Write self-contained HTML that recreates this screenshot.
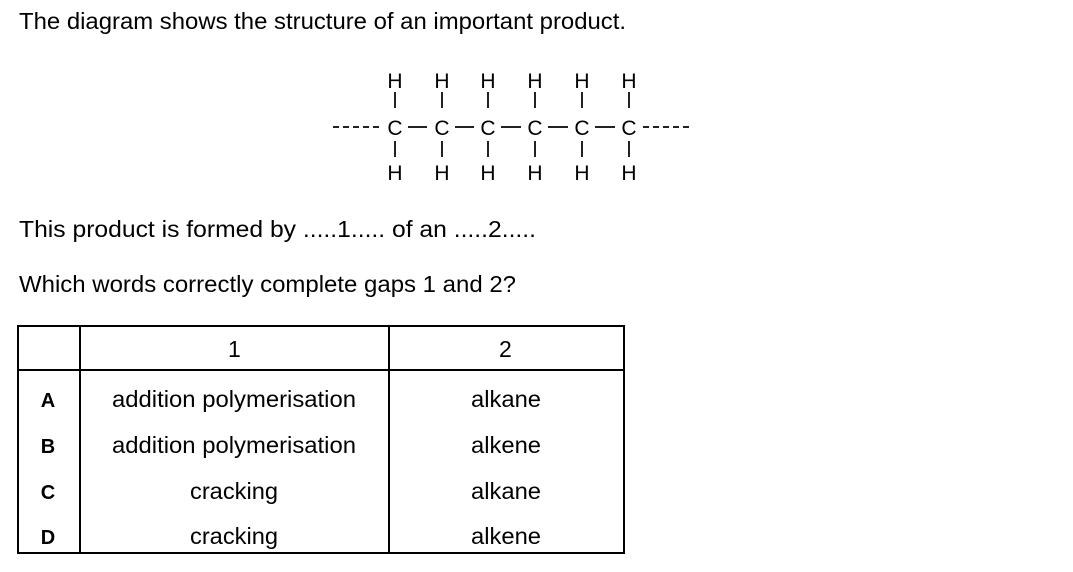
<!DOCTYPE html>
<html><head><style>
html,body{margin:0;padding:0;background:#fff;width:1073px;height:572px;overflow:hidden}
svg{display:block}
text{font-family:"Liberation Sans",Arial,sans-serif;fill:#000}
</style></head><body>
<svg width="1073" height="572" xmlns="http://www.w3.org/2000/svg">
<text x="19" y="29" font-size="23" textLength="607" lengthAdjust="spacingAndGlyphs">The diagram shows the structure of an important product.</text>
<g font-size="21" text-anchor="middle">
<text x="395" y="88">H</text><text x="442" y="88">H</text><text x="488" y="88">H</text><text x="535" y="88">H</text><text x="582" y="88">H</text><text x="629" y="88">H</text>
<text x="395" y="135">C</text><text x="442" y="135">C</text><text x="488" y="135">C</text><text x="535" y="135">C</text><text x="582" y="135">C</text><text x="629" y="135">C</text>
<text x="395" y="180">H</text><text x="442" y="180">H</text><text x="488" y="180">H</text><text x="535" y="180">H</text><text x="582" y="180">H</text><text x="629" y="180">H</text>
</g>
<g stroke="#222" stroke-width="2">
<path d="M395 92V108M442 92V108M488 92V108M535 92V108M582 92V108M629 92V108"/>
<path d="M395 141V157M442 141V157M488 141V157M535 141V157M582 141V157M629 141V157"/>
<path d="M408 127H427M455 127H474M501 127H521M548 127H568M595 127H615"/>
<path d="M333 127H381M643 127H690" stroke-dasharray="6,4"/>
</g>
<text x="19" y="237" font-size="23" textLength="517" lengthAdjust="spacingAndGlyphs">This product is formed by .....1..... of an .....2.....</text>
<text x="19" y="292" font-size="23" textLength="497" lengthAdjust="spacingAndGlyphs">Which words correctly complete gaps 1 and 2?</text>
<g stroke="#000" stroke-width="2" fill="none">
<rect x="18" y="326" width="606" height="227"/>
<path d="M18 370H624M80 326V553M389 326V553"/>
</g>
<g font-size="23">
<text x="228" y="357">1</text><text x="499" y="357">2</text>
<text x="112" y="407" textLength="244" lengthAdjust="spacingAndGlyphs">addition polymerisation</text><text x="471" y="407" textLength="70" lengthAdjust="spacingAndGlyphs">alkane</text>
<text x="112" y="453" textLength="244" lengthAdjust="spacingAndGlyphs">addition polymerisation</text><text x="471" y="453" textLength="70" lengthAdjust="spacingAndGlyphs">alkene</text>
<text x="190" y="499" textLength="88" lengthAdjust="spacingAndGlyphs">cracking</text><text x="471" y="499" textLength="70" lengthAdjust="spacingAndGlyphs">alkane</text>
<text x="190" y="544" textLength="88" lengthAdjust="spacingAndGlyphs">cracking</text><text x="471" y="544" textLength="70" lengthAdjust="spacingAndGlyphs">alkene</text>
</g>
<g font-size="20" font-weight="bold" text-anchor="middle">
<text x="48" y="407">A</text><text x="48" y="453">B</text><text x="48" y="499">C</text><text x="48" y="544">D</text>
</g>
</svg>
</body></html>
